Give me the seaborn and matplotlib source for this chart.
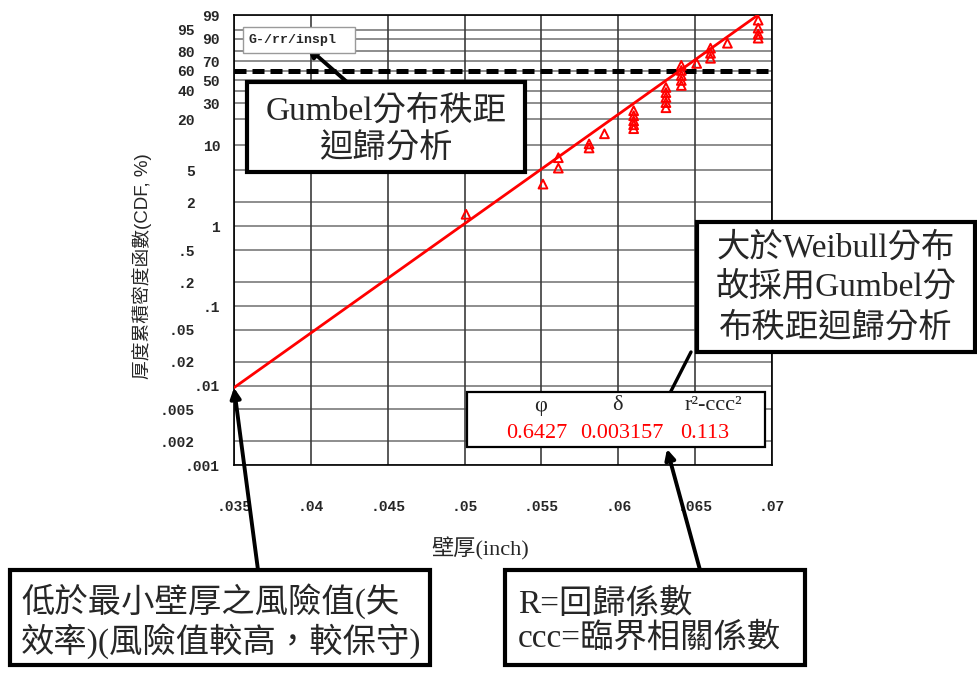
import numpy as np
import pandas as pd
import matplotlib
matplotlib.use("Agg")
import matplotlib.pyplot as plt
import seaborn as sns
from matplotlib.patches import Rectangle, FancyArrowPatch
from matplotlib.lines import Line2D

# ---- data -------------------------------------------------------------
# measured wall thickness (inch) and plotting position (CDF, %)
thickness = [0.0501, 0.0551, 0.0561, 0.0561, 0.0581, 0.0581, 0.0591,
             0.0610, 0.0610, 0.0610, 0.0610, 0.0610,
             0.0631, 0.0631, 0.0631, 0.0631, 0.0631,
             0.0641, 0.0641, 0.0641, 0.0641, 0.0641,
             0.0651,
             0.0660, 0.0660, 0.0660,
             0.0671,
             0.0691, 0.0691, 0.0691, 0.0691]
cdf_pct = [1.42, 3.37, 5.3, 7.1, 9.3, 10.4, 13.7,
           25.0, 22.0, 19.3, 17.4, 15.7,
           43.1, 38.5, 34.4, 30.5, 26.9,
           65.7, 60.3, 55.0, 49.9, 45.0,
           67.8,
           82.8, 78.1, 73.1,
           86.9,
           98.1, 95.7, 92.9, 90.5]

# fitted extreme-value (minimum) parameters
stat_headers = ["φ", "δ", "r²-ccc²"]
stat_values = ["0.6427", "0.003157", "0.113"]
fit_location = 0.06427
fit_scale = float(stat_values[1])
fit_x_range = [0.035, 0.0691]

threshold_pct = 60

y_major = [99, 90, 70, 50, 30, 10, 1, 0.1, 0.01, 0.001]
y_major_labels = ["99", "90", "70", "50", "30", "10", "1", ".1", ".01", ".001"]
y_minor = [95, 80, 60, 40, 20, 5, 2, 0.5, 0.2, 0.05, 0.02, 0.005, 0.002]
y_minor_labels = ["95", "80", "60", "40", "20", "5", "2", ".5", ".2",
                  ".05", ".02", ".005", ".002"]
x_ticks = [0.035, 0.04, 0.045, 0.05, 0.055, 0.06, 0.065, 0.07]
x_tick_labels = [".035", ".04", ".045", ".05", ".055", ".06", ".065", ".07"]

legend_label = "G-/rr/inspl"
box_title = "Gumbel分布秩距\n迴歸分析"
box_reason = "大於Weibull分布\n故採用Gumbel分\n布秩距迴歸分析"
box_risk = "低於最小壁厚之風險值(失\n效率)(風險值較高，較保守)"
box_terms = "R=回歸係數\nccc=臨界相關係數"
x_title = "壁厚(inch)"
y_title = "厚度累積密度函數(CDF, %)"

# ---- figure -----------------------------------------------------------
W, H = 978, 675
sns.set_style("white")
serif_cjk = ["Liberation Serif", "Noto Sans CJK TC"]
sans_cjk = ["Liberation Sans", "Noto Sans CJK TC"]
plt.rcParams["font.family"] = serif_cjk

fig = plt.figure(figsize=(W / 100, H / 100), dpi=100)
fig.patch.set_facecolor("white")


def fx(px):
    return px / W


def fy(py):
    return 1 - py / H


ax = fig.add_axes([fx(234), fy(465), fx(772) - fx(234), (465 - 15) / H])


def ev_forward(p):
    p = np.clip(np.asarray(p, dtype=float), 1e-12, 100 - 1e-9)
    return np.log(-np.log(1 - p / 100.0))


def ev_inverse(u):
    return 100.0 * (1 - np.exp(-np.exp(np.asarray(u, dtype=float))))


ax.set_yscale("function", functions=(ev_forward, ev_inverse))
ax.set_xlim(0.035, 0.07)
ax.set_ylim(0.001, 99)

# grid
for v in y_major + y_minor:
    ax.axhline(v, color="#6f6f6f", lw=1.1, zorder=1)
for v in x_ticks:
    ax.axvline(v, color="#3c3c3c", lw=1.2, zorder=1)

# threshold line
ax.axhline(threshold_pct, color="black", lw=3.6, dashes=(2.4, 1.2), zorder=3)

# fitted line
fx_line = np.linspace(fit_x_range[0], fit_x_range[1], 200)
fy_line = 100.0 * (1 - np.exp(-np.exp((fx_line - fit_location) / fit_scale)))
line_df = pd.DataFrame({"t": fx_line, "p": fy_line})
sns.lineplot(data=line_df, x="t", y="p", color="red", lw=2.0, ax=ax,
             zorder=4, sort=False)

# observed points
pts = pd.DataFrame({"t": thickness, "p": cdf_pct})
sns.scatterplot(data=pts, x="t", y="p", marker="^", s=40, color="red",
                linewidth=1.4, ax=ax, zorder=5)
coll = ax.collections[-1]
coll.set_facecolor("none")
coll.set_edgecolor("red")

# ticks
tick_font = dict(family="Liberation Mono", weight="bold", size=10.5)
ax.set_yticks(y_major, y_major_labels, **tick_font)
ax.set_yticks(y_minor, y_minor_labels, minor=True, **tick_font)
ax.tick_params(axis="y", which="major", length=7, width=1, pad=3,
               direction="out", color="#555555")
ax.tick_params(axis="y", which="minor", length=7, width=1, pad=21,
               direction="out", color="#555555")
ax.set_xticks(x_ticks, x_tick_labels, **tick_font)
ax.tick_params(axis="x", length=6, width=1, pad=19, direction="out",
               color="#888888")
ax.set_xlabel("")
ax.set_ylabel("")
for s in ax.spines.values():
    s.set_color("black")
    s.set_linewidth(1.2)

# axis titles
fig.text(fx(480), fy(549), x_title, ha="center", va="center", fontsize=16,
         family=serif_cjk)
fig.text(fx(142), fy(266), y_title, ha="center", va="center", fontsize=13.5,
         rotation=90, family=sans_cjk)


# ---- annotations ------------------------------------------------------
def fig_box(x0, y0, x1, y1, lw, ec="black"):
    fig.patches.append(Rectangle((fx(x0), fy(y1)), fx(x1) - fx(x0),
                                 (y1 - y0) / H, transform=fig.transFigure,
                                 facecolor="white", edgecolor=ec, lw=lw,
                                 zorder=6))


def fig_arrow(x_tail, y_tail, x_head, y_head):
    fig.add_artist(FancyArrowPatch(
        (fx(x_tail), fy(y_tail)), (fx(x_head), fy(y_head)),
        transform=fig.transFigure, arrowstyle="-|>", mutation_scale=15,
        lw=2.8, color="black", shrinkA=0, shrinkB=0, zorder=5))


# legend tag
fig_box(243, 27, 355, 53, 1.0, ec="#9a9a9a")
fig.text(fx(249), fy(40), legend_label, ha="left", va="center",
         fontsize=9.5, family="Liberation Mono", weight="bold", zorder=7)
fig_arrow(347, 82, 307, 47)

# title box
fig_box(247, 82, 525, 172, 3.0)
fig.text(fx(386), fy(130), box_title, ha="center", va="center",
         fontsize=24, linespacing=1.3, family=serif_cjk, zorder=7)

# reasoning box with connector to the table
fig.add_artist(Line2D([fx(691), fx(670)], [fy(352), fy(393)],
                      transform=fig.transFigure, color="black", lw=2.4,
                      zorder=5))
fig_box(697, 222, 975, 352, 3.0)
fig.text(fx(836), fy(288), box_reason, ha="center", va="center",
         fontsize=24, linespacing=1.35, family=serif_cjk, zorder=7)

# statistics table
fig_box(467, 392, 765, 447, 1.6)
for cx, head in zip([541, 617, 713], stat_headers):
    fig.text(fx(cx), fy(406), head, ha="center", va="center", fontsize=16,
             family=serif_cjk, zorder=7)
for cx, val in zip([537, 622, 705], stat_values):
    fig.text(fx(cx), fy(433), val, ha="center", va="center", fontsize=16,
             color="red", family=serif_cjk, zorder=7)

# risk box with arrow to the line start
start_pct = 100.0 * (1 - np.exp(-np.exp(
    (fit_x_range[0] - fit_location) / fit_scale)))
ax.annotate("", xy=(fit_x_range[0], start_pct),
            xytext=(fx(258), fy(570)), textcoords="figure fraction",
            arrowprops=dict(arrowstyle="-|>", mutation_scale=15, lw=2.8,
                            color="black", shrinkA=0, shrinkB=0),
            annotation_clip=False, zorder=8)
fig_box(10, 570, 430, 665, 3.0)
fig.text(fx(21), fy(621), box_risk, ha="left", va="center", fontsize=24,
         linespacing=1.12, family=serif_cjk, zorder=7)

# terms box with arrow to the table
fig_arrow(700, 570, 667, 449)
fig_box(505, 570, 805, 665, 3.0)
fig.text(fx(518), fy(621), box_terms, ha="left", va="center", fontsize=24,
         linespacing=1.12, family=serif_cjk, zorder=7)

fig.savefig("out.png", dpi=100, facecolor="white")
